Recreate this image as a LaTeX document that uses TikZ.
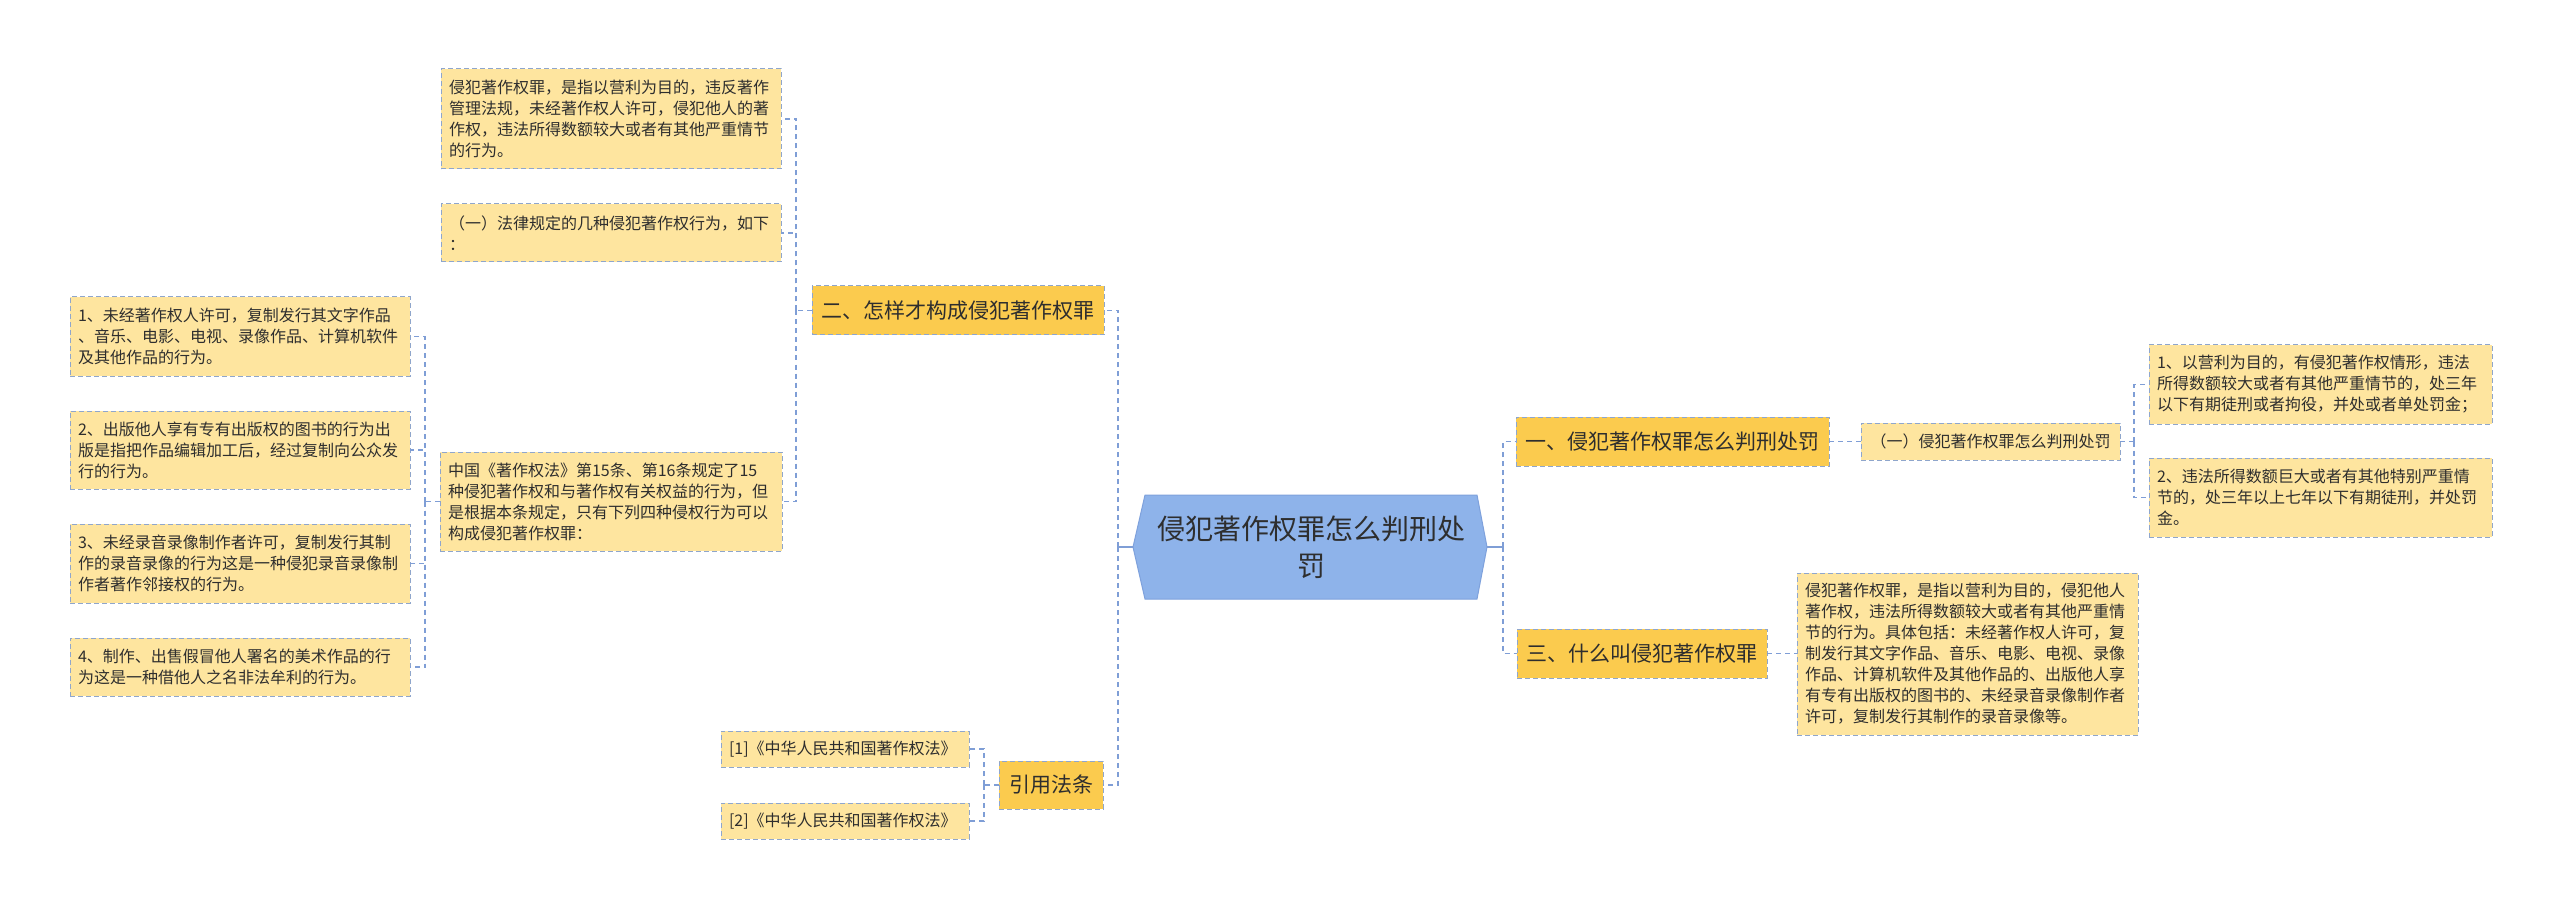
\documentclass[tikz,border=0pt]{standalone}
\usepackage{fontspec}
\setmainfont{Noto Sans CJK SC}
\usetikzlibrary{backgrounds}
\definecolor{connc}{HTML}{7F9ED6}
\definecolor{bord}{HTML}{8FA6CC}
\definecolor{gold}{HTML}{FBCB4E}
\definecolor{leaf}{HTML}{FEE59F}
\definecolor{cfill}{HTML}{8EB3EA}
\definecolor{cbord}{HTML}{7EA1DC}
\definecolor{txt}{HTML}{2E2E2E}
\begin{document}
\begin{tikzpicture}[x=1pt,y=-1pt,
  leafbox/.style={draw=bord, dash pattern=on 5pt off 3pt, line width=1pt, fill=leaf, text=txt,
    font=\fontsize{16}{21}\selectfont, align=left, inner xsep=8pt, inner ysep=0pt, outer sep=0pt},
  topbox/.style={draw=bord, dash pattern=on 5pt off 3pt, line width=1pt, fill=gold, text=txt,
    font=\fontsize{21}{26}\selectfont, align=center, inner sep=0pt, outer sep=0pt},
  conn/.style={draw=connc, line width=1.4pt, dash pattern=on 5pt off 4pt},
]
\useasboundingbox (0,0) rectangle (2560,909);

% split coordinates
\coordinate (spL) at (1118,0);
\coordinate (spR) at (1503,0);
\coordinate (sp2) at (796,0);
\coordinate (sp3) at (425,0);
\coordinate (sp4) at (984,0);
\coordinate (sp5) at (2134,0);
\coordinate (ctl) at (1133,547);
\coordinate (ctr) at (1487,547);

% center
\node[text=txt, font=\fontsize{28}{37}\selectfont, align=center, minimum width=332pt, minimum height=104pt, inner sep=0pt, outer sep=0pt] (c) at (1311,547) {侵犯著作权罪怎么判刑处\\罚};

% level one
\node[topbox, minimum width=292pt, minimum height=49pt] (n2) at (958,310.5) {二、怎样才构成侵犯著作权罪};
\node[topbox, minimum width=104pt, minimum height=48pt] (yy) at (1051,785) {引用法条};
\node[topbox, minimum width=313pt, minimum height=49pt] (n1) at (1672.5,441.5) {一、侵犯著作权罪怎么判刑处罚};
\node[topbox, minimum width=250pt, minimum height=49pt] (n3) at (1642,653.5) {三、什么叫侵犯著作权罪};

% children of n2
\node[leafbox, text width=324pt, minimum height=100pt] (a) at (611,119) {侵犯著作权罪，是指以营利为目的，违反著作\\管理法规，未经著作权人许可，侵犯他人的著\\作权，违法所得数额较大或者有其他严重情节\\的行为。};
\node[leafbox, text width=324pt, minimum height=58pt] (b) at (611,233) {（一）法律规定的几种侵犯著作权行为，如下\\：};
\node[leafbox, text width=326pt, minimum height=99pt] (zg) at (611,501.5) {中国《著作权法》第15条、第16条规定了15\\种侵犯著作权和与著作权有关权益的行为，但\\是根据本条规定，只有下列四种侵权行为可以\\构成侵犯著作权罪：};

% children of zg
\node[leafbox, text width=324pt, minimum height=79pt] (l1) at (240,336.5) {1、未经著作权人许可，复制发行其文字作品\\、音乐、电影、电视、录像作品、计算机软件\\及其他作品的行为。};
\node[leafbox, text width=324pt, minimum height=78pt] (l2) at (240,450) {2、出版他人享有专有出版权的图书的行为出\\版是指把作品编辑加工后，经过复制向公众发\\行的行为。};
\node[leafbox, text width=324pt, minimum height=79pt] (l3) at (240,563.5) {3、未经录音录像制作者许可，复制发行其制\\作的录音录像的行为这是一种侵犯录音录像制\\作者著作邻接权的行为。};
\node[leafbox, text width=324pt, minimum height=58pt] (l4) at (240,667) {4、制作、出售假冒他人署名的美术作品的行\\为这是一种借他人之名非法牟利的行为。};

% children of yy
\node[leafbox, text width=232pt, minimum height=36pt] (c1) at (845,749) {[1]《中华人民共和国著作权法》};
\node[leafbox, text width=232pt, minimum height=36pt] (c2) at (845,821) {[2]《中华人民共和国著作权法》};

% right side
\node[leafbox, align=center, text width=243pt, minimum height=37pt] (s1) at (1990.5,441.5) {（一）侵犯著作权罪怎么判刑处罚};
\node[leafbox, text width=327pt, minimum height=79pt] (r1) at (2320.5,384.5) {1、以营利为目的，有侵犯著作权情形，违法\\所得数额较大或者有其他严重情节的，处三年\\以下有期徒刑或者拘役，并处或者单处罚金；};
\node[leafbox, text width=327pt, minimum height=79pt] (r2) at (2320.5,497.5) {2、违法所得数额巨大或者有其他特别严重情\\节的，处三年以上七年以下有期徒刑，并处罚\\金。};
\node[leafbox, text width=325pt, minimum height=162pt] (t3) at (1967.5,654) {侵犯著作权罪，是指以营利为目的，侵犯他人\\著作权，违法所得数额较大或者有其他严重情\\节的行为。具体包括：未经著作权人许可，复\\制发行其文字作品、音乐、电影、电视、录像\\作品、计算机软件及其他作品的、出版他人享\\有专有出版权的图书的、未经录音录像制作者\\许可，复制发行其制作的录音录像等。};

% background: white page and hexagon of the center node
\begin{scope}[on background layer]
\fill[white] (0,0) rectangle (2560,909);
\filldraw[fill=cfill, draw=cbord, line width=1pt] (c.north west) -- (c.north east) -- (ctr) -- (c.south east) -- (c.south west) -- (ctl) -- cycle;
\end{scope}

% connectors
\draw[draw=connc, line width=1.4pt] (ctl) -- (ctl -| spL);
\draw[conn] (ctl -| spL) |- (n2.east);
\draw[conn] (ctl -| spL) |- (yy.east);
\draw[draw=connc, line width=1.4pt] (ctr) -- (ctr -| spR);
\draw[conn] (ctr -| spR) |- (n1.west);
\draw[conn] (ctr -| spR) |- (n3.west);

\draw[conn] (n2.west) -- (n2.west -| sp2);
\draw[conn] (n2.west -| sp2) |- (a.east);
\draw[conn] (n2.west -| sp2) |- (b.east);
\draw[conn] (n2.west -| sp2) |- (zg.east);

\draw[conn] (zg.west) -- (zg.west -| sp3);
\draw[conn] (zg.west -| sp3) |- (l1.east);
\draw[conn] (zg.west -| sp3) |- (l2.east);
\draw[conn] (zg.west -| sp3) |- (l3.east);
\draw[conn] (zg.west -| sp3) |- (l4.east);

\draw[conn] (yy.west) -- (yy.west -| sp4);
\draw[conn] (yy.west -| sp4) |- (c1.east);
\draw[conn] (yy.west -| sp4) |- (c2.east);

\draw[conn] (n1.east) -- (s1.west);
\draw[conn] (s1.east) -- (s1.east -| sp5);
\draw[conn] (s1.east -| sp5) |- (r1.west);
\draw[conn] (s1.east -| sp5) |- (r2.west);

\draw[conn] (n3.east) -- (n3.east -| t3.west);
\end{tikzpicture}
\end{document}
